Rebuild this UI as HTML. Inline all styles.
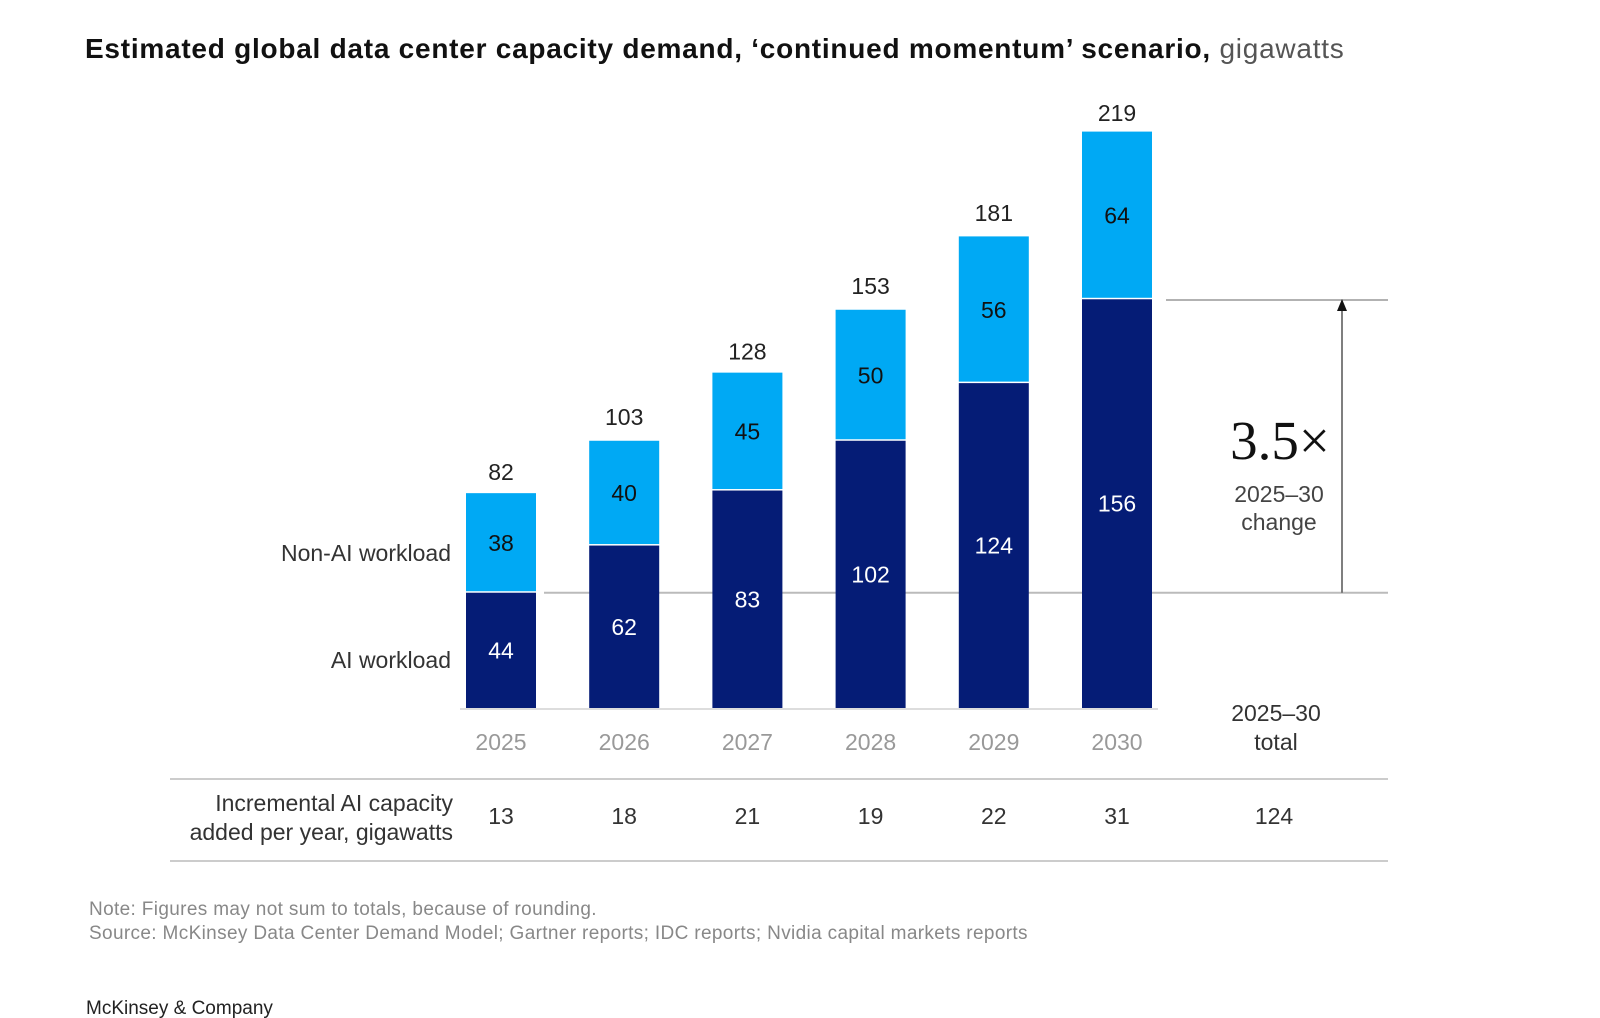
<!DOCTYPE html>
<html><head><meta charset="utf-8"><style>
body{margin:0;background:#fff;}
svg{display:block;font-family:"Liberation Sans",sans-serif;}
</style></head><body>
<svg id="chart" width="1600" height="1018" viewBox="0 0 1600 1018">
<text x="85" y="58" font-size="28" letter-spacing="0.75" font-weight="bold" fill="#111">Estimated global data center capacity demand, ‘continued momentum’ scenario,<tspan font-weight="normal" fill="#555"> gigawatts</tspan></text>
<line id="refline" x1="544" y1="596" x2="1388" y2="596" stroke="#bbb" stroke-width="2"/>
<line x1="1166" y1="300" x2="1388" y2="300" stroke="#999" stroke-width="1.5"/>
<line id="arrowline" x1="1342" y1="596" x2="1342" y2="307" stroke="#555" stroke-width="1.5"/>
<polygon points="1342,299 1337,311 1347,311" fill="#111"/>
<text x="1280" y="459" font-size="55" text-anchor="middle" font-family="Liberation Serif,serif" fill="#111">3.5×</text>
<text x="1279" y="502" font-size="23" text-anchor="middle" fill="#444">2025–30</text>
<text x="1279" y="530" font-size="23" text-anchor="middle" fill="#444">change</text>
<text x="451" y="561" font-size="23" text-anchor="end" fill="#333">Non-AI workload</text>
<text x="451" y="668" font-size="23" text-anchor="end" fill="#333">AI workload</text>
<text x="1276" y="721" font-size="23" text-anchor="middle" fill="#333">2025–30</text>
<text x="1276" y="750" font-size="23" text-anchor="middle" fill="#333">total</text>
<line x1="170" y1="779" x2="1388" y2="779" stroke="#ccc" stroke-width="2"/>
<line x1="170" y1="861" x2="1388" y2="861" stroke="#ccc" stroke-width="2"/>
<text x="453" y="811" font-size="23" text-anchor="end" fill="#333">Incremental AI capacity</text>
<text x="453" y="840" font-size="23" text-anchor="end" fill="#333">added per year, gigawatts</text>
<text x="1274" y="824" font-size="23" text-anchor="middle" fill="#333">124</text>
<text x="89" y="915" font-size="19" letter-spacing="0.35" fill="#888">Note: Figures may not sum to totals, because of rounding.</text>
<text x="89" y="939" font-size="19" letter-spacing="0.35" fill="#888">Source: McKinsey Data Center Demand Model; Gartner reports; IDC reports; Nvidia capital markets reports</text>
<text x="86" y="1014" font-size="19" fill="#222">McKinsey &amp; Company</text>
<g id="bars"></g>
</svg>
<script>
const years=["2025","2026","2027","2028","2029","2030"];
const aiValues=[44,62,83,102,124,156];
const nonAiValues=[38,40,45,50,56,64];
const totals=[82,103,128,153,181,219];
const incremental=[13,18,21,19,22,31];
const NS="http://www.w3.org/2000/svg";
const g=document.getElementById('bars');
const baseY=708, pxPerUnit=2.62, x0=466, step=123.2, bw=70;
const y=v=>baseY-v*pxPerUnit;
const xb=i=>x0+i*step;
function mk(tag,attrs,txt){const e=document.createElementNS(NS,tag);for(const k in attrs)e.setAttribute(k,attrs[k]);if(txt!=null)e.textContent=txt;g.appendChild(e);return e;}
const rl=document.getElementById('refline');
rl.setAttribute('y1',y(aiValues[0]));rl.setAttribute('y2',y(aiValues[0]));
const al=document.getElementById('arrowline');
al.setAttribute('y1',y(aiValues[0]));
years.forEach((yr,i)=>{
  const x=xb(i), cx=x+bw/2;
  const ai=aiValues[i], non=nonAiValues[i];
  const r1=mk('rect',{x:x,y:y(ai),width:bw,height:ai*pxPerUnit,fill:'#051c76'});
  
  
  const r2=mk('rect',{x:x,y:y(ai+non),width:bw,height:non*pxPerUnit-1.5,fill:'#00a9f4'});
  
  
  const t1=mk('text',{x:cx,y:(y(0)+y(ai))/2+8,'font-size':23,'text-anchor':'middle',fill:'#fff'},ai);
  
  
  const t2=mk('text',{x:cx,y:(y(ai)+y(ai+non))/2+8,'font-size':23,'text-anchor':'middle',fill:'#111'},non);
  
  
  const t3=mk('text',{x:cx,y:y(totals[i])-13,'font-size':23,'text-anchor':'middle',fill:'#222'},totals[i]);
  
  
  const t4=mk('text',{x:cx,y:750,'font-size':23,'text-anchor':'middle',fill:'#999'},yr);
  
  
  const t5=mk('text',{x:cx,y:824,'font-size':23,'text-anchor':'middle',fill:'#333'},incremental[i]);
  
  
});
const ax=mk('line',{x1:x0-6,y1:baseY+1,x2:xb(5)+bw+6,y2:baseY+1,stroke:'#ddd','stroke-width':2});


</script>
</body></html>
